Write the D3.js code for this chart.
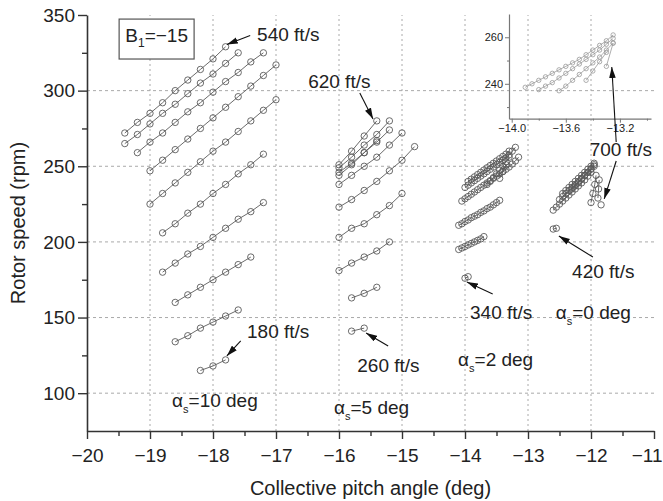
<!DOCTYPE html>
<html>
<head>
<meta charset="utf-8">
<script src="https://cdn.jsdelivr.net/npm/d3@7"></script>
<style>
  body { margin: 0; background: #fff; }
  svg { display: block; }
  text { font-family: "Liberation Sans", Arial, sans-serif; fill: #222; }
</style>
</head>
<body>
<svg id="chart" width="663" height="501"></svg>
<script>
// ---- Axis ticks ----
const xTicks = [-20, -19, -18, -17, -16, -15, -14, -13, -12, -11];
const xMinorTicks = [-19.5, -18.5, -17.5, -16.5, -15.5, -14.5, -13.5, -12.5, -11.5];
const yTicks = [100, 150, 200, 250, 300, 350];
const yMinorTicks = [125, 175, 225, 275, 325];
const insetXTicks = [-14.0, -13.6, -13.2];
const insetXMinorTicks = [-13.8, -13.4, -13.0];
const insetYTicks = [240, 260];
const insetYMinorTicks = [230, 250];

// ---- Rotor speed vs collective pitch, shaft angle 10 deg (one run per flight speed) ----
const alpha10 = [
  { x: [-19.4, -19.2, -19.0, -18.8, -18.6, -18.4, -18.2, -18.0, -17.8],
    rpm: [272, 279, 285, 292, 300, 307, 314, 321, 329] },
  { x: [-19.4, -19.2, -19.0, -18.8, -18.6, -18.4, -18.2, -18.0, -17.8, -17.6],
    rpm: [265, 271, 278, 285, 291, 298, 305, 311, 318, 325] },
  { x: [-19.2, -19.0, -18.8, -18.6, -18.4, -18.2, -18.0, -17.8, -17.6, -17.4, -17.2],
    rpm: [259, 266, 272, 279, 286, 292, 299, 306, 312, 319, 325] },
  { x: [-19.0, -18.8, -18.6, -18.4, -18.2, -18.0, -17.8, -17.6, -17.4, -17.2, -17.0],
    rpm: [247, 254, 261, 268, 275, 282, 289, 296, 303, 310, 317] },
  { x: [-19.0, -18.8, -18.6, -18.4, -18.2, -18.0, -17.8, -17.6, -17.4, -17.2, -17.0],
    rpm: [225, 232, 239, 246, 253, 260, 266, 273, 280, 287, 294] },
  { x: [-18.8, -18.6, -18.4, -18.2, -18.0, -17.8, -17.6, -17.4, -17.2],
    rpm: [206, 212, 219, 225, 232, 238, 245, 251, 258] },
  { x: [-18.8, -18.6, -18.4, -18.2, -18.0, -17.8, -17.6, -17.4, -17.2],
    rpm: [180, 186, 192, 197, 203, 209, 215, 220, 226] },
  { x: [-18.6, -18.4, -18.2, -18.0, -17.8, -17.6, -17.4],
    rpm: [160, 165, 170, 175, 180, 185, 190] },
  { x: [-18.6, -18.4, -18.2, -18.0, -17.8, -17.6],
    rpm: [134, 138, 143, 147, 151, 155] },
  { x: [-18.2, -18.0, -17.8],
    rpm: [115, 118, 122] }
];

// ---- Shaft angle 5 deg ----
const alpha5 = [
  { x: [-16.0, -15.8, -15.6, -15.4], rpm: [251, 260, 270, 280] },
  { x: [-16.0, -15.8, -15.6, -15.4, -15.2], rpm: [249, 256, 264, 271, 280] },
  { x: [-16.0, -15.8, -15.6, -15.4, -15.2], rpm: [246, 252, 259, 266, 274] },
  { x: [-16.0, -15.8, -15.6, -15.4], rpm: [244, 251, 259, 267] },
  { x: [-16.0, -15.8, -15.6, -15.4, -15.2, -15.0], rpm: [238, 244, 250, 256, 264, 272] },
  { x: [-16.0, -15.8, -15.6, -15.4, -15.2, -15.0, -14.8], rpm: [223, 228, 234, 240, 247, 254, 263] },
  { x: [-16.0, -15.8, -15.6, -15.4, -15.2, -15.0], rpm: [203, 209, 212, 218, 224, 232] },
  { x: [-16.0, -15.8, -15.6, -15.4, -15.2], rpm: [181, 186, 190, 194, 200] },
  { x: [-15.8, -15.6, -15.4], rpm: [163, 166, 170] },
  { x: [-15.8, -15.6], rpm: [141, 143] }
];

// ---- Shaft angle 2 deg ----
const alpha2 = [
  { x: [-14.0, -13.95], rpm: [176, 177] },
  { x: [-14.1, -14.05, -14.0, -13.95, -13.9, -13.85, -13.8, -13.75, -13.7],
    rpm: [195, 196, 197, 198, 199, 200, 201, 202, 203.5] },
  { x: [-14.1, -14.05, -14.0, -13.95, -13.9, -13.85, -13.8, -13.75, -13.7, -13.65, -13.6, -13.55, -13.5, -13.45],
    rpm: [211, 212, 213.5, 214.5, 216, 217, 218, 219.5, 220.5, 222, 223, 224.5, 226, 227.5] },
  { x: [-14.05, -14.0, -13.95, -13.9, -13.85, -13.8, -13.75, -13.7, -13.65, -13.6, -13.55, -13.5, -13.45, -13.4, -13.35, -13.3, -13.25, -13.2, -13.15],
    rpm: [227, 228.5, 230, 231.5, 233, 234.5, 236, 237.5, 239, 240.5, 242, 243.5, 245, 246.5, 248, 249.5, 251.5, 253.5, 256] },
  { x: [-14.0, -13.95, -13.9, -13.85, -13.8, -13.75, -13.7, -13.65, -13.6, -13.55, -13.5, -13.45, -13.4, -13.35, -13.3, -13.25, -13.2],
    rpm: [236, 237.5, 239, 240.5, 242, 243.5, 245, 246.5, 248, 249.5, 251, 252.5, 254, 255.5, 257.5, 260, 262.5] },
  { x: [-13.95, -13.9, -13.85, -13.8, -13.75, -13.7, -13.65, -13.6, -13.55, -13.5, -13.45, -13.4, -13.35, -13.3],
    rpm: [240, 241.5, 243, 244.5, 246, 247.5, 249, 250.5, 252, 253.5, 255, 256.5, 258, 260] },
  { x: [-13.65, -13.6, -13.55, -13.5, -13.45, -13.4, -13.35, -13.3],
    rpm: [238, 240, 242.5, 245, 247.5, 250, 253, 256] },
  { x: [-13.45, -13.4, -13.35], rpm: [242, 246.5, 251] }
];

// ---- Shaft angle 0 deg ----
const alpha0 = [
  { x: [-12.6, -12.55], rpm: [208.5, 209] },
  { x: [-12.6, -12.55, -12.5, -12.45, -12.4, -12.35, -12.3, -12.25, -12.2, -12.15, -12.1, -12.05, -12.0],
    rpm: [221, 223, 225, 227, 229, 231, 233, 235, 237, 239, 241, 243.5, 246] },
  { x: [-12.5, -12.45, -12.4, -12.35, -12.3, -12.25, -12.2, -12.15, -12.1, -12.05, -12.0, -11.95],
    rpm: [228, 230, 232, 234, 236, 238, 240, 242, 244, 246, 248, 250] },
  { x: [-12.45, -12.4, -12.35, -12.3, -12.25, -12.2, -12.15, -12.1, -12.05, -12.0, -11.95],
    rpm: [232, 234, 236, 238, 240, 242, 244, 246, 248, 250, 252] },
  { x: [-12.3, -12.25, -12.2, -12.15, -12.1, -12.05, -12.0, -11.95],
    rpm: [235, 237, 239, 241.5, 244, 246, 248.5, 251] },
  { x: [-12.0, -11.97, -11.94, -11.92], rpm: [226, 232, 238, 244] },
  { x: [-11.89, -11.88, -11.87], rpm: [229, 235, 241] },
  { x: [-11.84], rpm: [224.5] }
];

// ---- Close-up of the converging runs near -13.2 deg ----
const insetRuns = [
  { x: [-13.9, -13.85, -13.8, -13.75, -13.7, -13.65, -13.6, -13.55, -13.5, -13.45, -13.4, -13.35, -13.3, -13.25],
    rpm: [238.5, 240, 241.5, 243, 244.5, 246, 247.5, 249, 250.5, 252.5, 254.5, 256.5, 258.5, 261] },
  { x: [-13.8, -13.75, -13.7, -13.65, -13.6, -13.55, -13.5, -13.45, -13.4, -13.35, -13.3, -13.25],
    rpm: [237.5, 239, 240.5, 242.5, 244.5, 246.5, 248.5, 250.5, 252.5, 254.5, 257, 259.5] },
  { x: [-13.65, -13.6, -13.55, -13.5, -13.45, -13.4, -13.35, -13.3, -13.25],
    rpm: [237, 239, 241.5, 244, 246.5, 249, 251.5, 254.5, 257.5] },
  { x: [-13.45, -13.4, -13.35, -13.3], rpm: [241.5, 245.5, 249.5, 253.5] },
  { x: [-13.3, -13.25], rpm: [247.5, 257.5] }
];

// ---- Labels (placed in data units) ----
const speedLabels = [
  { text: "540 ft/s", x: -17.30, y: 332.5, tail: [-17.41, 336.5], tip: [-17.78, 330.5] },
  { text: "620 ft/s", x: -16.49, y: 301.5, tail: [-15.67, 298.4], tip: [-15.46, 281.3] },
  { text: "180 ft/s", x: -17.46, y: 136.5, tail: [-17.56, 134.5], tip: [-17.78, 124.6] },
  { text: "260 ft/s", x: -15.71, y: 114.0, tail: [-15.22, 131.2], tip: [-15.57, 139.8] },
  { text: "340 ft/s", x: -13.92, y: 149.0, tail: [-13.56, 165.6], tip: [-13.97, 173.5] },
  { text: "420 ft/s", x: -12.30, y: 176.1, tail: [-11.97, 190.0], tip: [-12.51, 203.9] },
  { text: "700 ft/s", x: -12.02, y: 256.8, tail: [-11.60, 266.0], tip: [-11.67, 315.6] },
  { text: "", x: 0, y: 0, tail: [-11.60, 253.5], tip: [-11.79, 228.4] }
];
const alphaLabels = [
  { value: "10", x: -18.65, y: 90.9 },
  { value: "5", x: -16.08, y: 86.2 },
  { value: "2", x: -14.11, y: 118.0 },
  { value: "0", x: -12.56, y: 149.0 }
];

// ---- Chart ----
const W = 663;
const svg = d3.select("#chart");
const x = d3.scaleLinear().domain([-20, -11]).range([87, 654]);
const y = d3.scaleLinear().domain([75, 350]).range([431, 15]);

const defs = svg.append("defs");
defs.append("marker")
  .attr("id", "head").attr("markerUnits", "userSpaceOnUse")
  .attr("viewBox", "0 0 10 6").attr("refX", 10).attr("refY", 3)
  .attr("markerWidth", 11).attr("markerHeight", 7).attr("orient", "auto")
  .append("path").attr("d", "M0,0 L10,3 L0,6 Z").attr("fill", "#111");

// grid
const grid = svg.append("g");
grid.selectAll("line.v").data(xTicks.filter(d => d > -20 && d < -11)).join("line")
  .attr("x1", d => x(d)).attr("x2", d => x(d))
  .attr("y1", y(75)).attr("y2", y(350))
  .attr("stroke", "#aaa").attr("stroke-width", 1).attr("stroke-dasharray", "2,3");
grid.selectAll("line.h").data(yTicks.filter(d => d < 350)).join("line")
  .attr("x1", x(-20)).attr("x2", x(-11))
  .attr("y1", d => y(d)).attr("y2", d => y(d))
  .attr("stroke", "#aaa").attr("stroke-width", 1).attr("stroke-dasharray", "3,3");

// axes
const fmt = d => d3.format("d")(d).replace("-", "\u2212");
const xAxis = svg.append("g").attr("transform", `translate(0,${y(75)})`)
  .call(d3.axisBottom(x).tickValues(xTicks).tickFormat(fmt).tickSize(8).tickSizeOuter(0).tickPadding(10));
svg.append("g").attr("transform", `translate(0,${y(75)})`)
  .call(d3.axisBottom(x).tickValues(xMinorTicks).tickFormat("").tickSize(5).tickSizeOuter(0))
  .select(".domain").remove();
const yAxis = svg.append("g").attr("transform", `translate(${x(-20)},0)`)
  .call(d3.axisLeft(y).tickValues(yTicks).tickFormat(fmt).tickSize(9).tickSizeOuter(0).tickPadding(3));
svg.append("g").attr("transform", `translate(${x(-20)},0)`)
  .call(d3.axisLeft(y).tickValues(yMinorTicks).tickFormat("").tickSize(5).tickSizeOuter(0))
  .select(".domain").remove();
svg.selectAll(".domain").attr("stroke", "#333").attr("stroke-width", 1.6);
svg.selectAll(".tick line").attr("stroke", "#333").attr("stroke-width", 1.4);
svg.selectAll(".tick text").attr("font-size", 19).attr("fill", "#222")
  .attr("font-family", "'Liberation Sans', Arial, sans-serif");
// keep the last x label inside the page
xAxis.selectAll(".tick text").each(function () {
  const box = this.getBBox();
  const tx = x(d3.select(this.parentNode).datum());
  const over = tx + box.x + box.width - (W - 1);
  if (over > 0) d3.select(this).attr("dx", -over);
});

svg.append("text").attr("x", (x(-20) + x(-11)) / 2).attr("y", 495)
  .attr("text-anchor", "middle").attr("font-size", 20).text("Collective pitch angle (deg)");
svg.append("text").attr("transform", `translate(25,${(y(75) + y(350)) / 2}) rotate(-90)`)
  .attr("text-anchor", "middle").attr("font-size", 20).text("Rotor speed (rpm)");

// runs
function drawRuns(g, runs, xs, ys, r, stroke, sw) {
  const line = d3.line().x(d => xs(d[0])).y(d => ys(d[1]));
  runs.forEach(run => {
    const pts = run.x.map((v, i) => [v, run.rpm[i]]);
    g.append("path").attr("d", line(pts)).attr("fill", "none")
      .attr("stroke", stroke).attr("stroke-width", sw);
    g.selectAll(null).data(pts).join("circle")
      .attr("cx", d => xs(d[0])).attr("cy", d => ys(d[1])).attr("r", r)
      .attr("fill", "none").attr("stroke", stroke).attr("stroke-width", sw);
  });
}
const runsG = svg.append("g");
[alpha10, alpha5, alpha2, alpha0].forEach(group => drawRuns(runsG, group, x, y, 3.2, "#5a5a5a", 0.9));

// inset
const ix = d3.scaleLinear().domain([-14.02, -12.97]).range([509, 651]);
const iy = d3.scaleLinear().domain([225, 270]).range([118.7, 14]);
const inset = svg.append("g");
inset.append("g").attr("transform", `translate(0,${iy(225)})`)
  .call(d3.axisBottom(ix).tickValues(insetXTicks).tickFormat(d => d3.format(".1f")(d).replace("-", "\u2212")).tickSize(4).tickSizeOuter(0).tickPadding(2));
inset.append("g").attr("transform", `translate(0,${iy(225)})`)
  .call(d3.axisBottom(ix).tickValues(insetXMinorTicks).tickFormat("").tickSize(2).tickSizeOuter(0))
  .select(".domain").remove();
inset.append("g").attr("transform", `translate(${ix(-14.02)},0)`)
  .call(d3.axisLeft(iy).tickValues(insetYTicks).tickFormat(d3.format("d")).tickSize(4).tickSizeOuter(0).tickPadding(2));
inset.append("g").attr("transform", `translate(${ix(-14.02)},0)`)
  .call(d3.axisLeft(iy).tickValues(insetYMinorTicks).tickFormat("").tickSize(2).tickSizeOuter(0))
  .select(".domain").remove();
inset.selectAll(".domain").attr("stroke", "#777").attr("stroke-width", 1.2);
inset.selectAll(".tick line").attr("stroke", "#777").attr("stroke-width", 1);
inset.selectAll(".tick text").attr("font-size", 11).attr("fill", "#444")
  .attr("font-family", "'Liberation Sans', Arial, sans-serif");
drawRuns(inset.append("g"), insetRuns, ix, iy, 2.2, "#999", 0.8);

// B1 box
const bx = x(-19.49), by = y(347.3);
svg.append("rect").attr("x", bx).attr("y", by)
  .attr("width", x(-18.30) - bx).attr("height", y(320.9) - by)
  .attr("fill", "#fff").attr("stroke", "#555").attr("stroke-width", 1.2);
const bt = svg.append("text").attr("x", (bx + x(-18.30)) / 2).attr("y", by + 23)
  .attr("text-anchor", "middle").attr("font-size", 19);
bt.append("tspan").text("B");
bt.append("tspan").attr("font-size", 12).attr("dy", 5).text("1");
bt.append("tspan").attr("dy", -5).text("=\u221215");

// speed labels and arrows
const ann = svg.append("g");
speedLabels.forEach(l => {
  if (l.text) {
    ann.append("text").attr("x", x(l.x)).attr("y", y(l.y)).attr("font-size", 19).text(l.text);
  }
  ann.append("line")
    .attr("x1", x(l.tail[0])).attr("y1", y(l.tail[1]))
    .attr("x2", x(l.tip[0])).attr("y2", y(l.tip[1]))
    .attr("stroke", "#111").attr("stroke-width", 1.1).attr("marker-end", "url(#head)");
});
alphaLabels.forEach(l => {
  const t = ann.append("text").attr("x", x(l.x)).attr("y", y(l.y)).attr("font-size", 19);
  t.append("tspan").text("\u03b1");
  t.append("tspan").attr("font-size", 11).attr("dy", 6).text("s");
  t.append("tspan").attr("dy", -6).text("=" + l.value + " deg");
});
</script>
</body>
</html>
